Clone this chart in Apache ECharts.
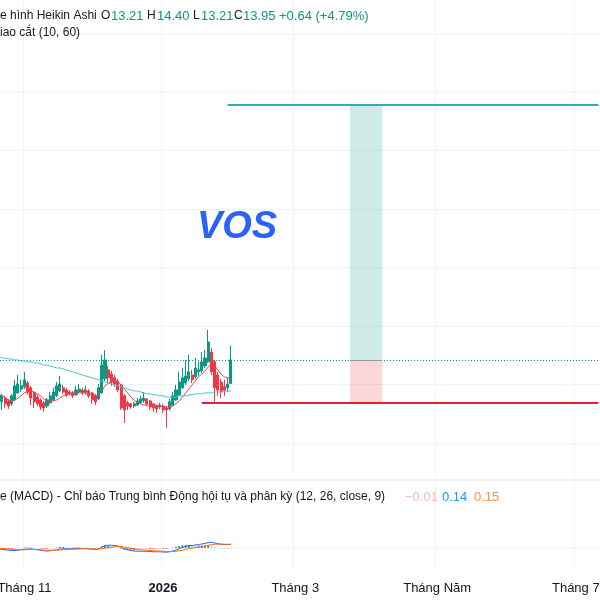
<!DOCTYPE html>
<html><head><meta charset="utf-8">
<script src="https://cdn.jsdelivr.net/npm/echarts@6/dist/echarts.min.js"></script>
<style>html,body{margin:0;padding:0;background:#fff}#c{width:600px;height:600px}</style>
</head><body><div id="c"></div>
<script>
// ---- axis / calendar ----
const startYear = 2025, startMonth = 9, startDay = 22; // 2025-10-22
const barCount = 187;
const holidays = ['2026-01-01'];
const tickDates = ['2025-11-03','2026-01-02','2026-03-02','2026-05-01','2026-07-01'];
const tickLabels = ['Tháng 11','2026','Tháng 3','Tháng Năm','Tháng 7'];
// horizontal price grid levels (main pane)
const gridPrices = [24.14, 22.31, 20.49, 18.66, 16.84, 15.01, 13.19, 11.36];

// ---- Heikin Ashi candles ----
const haOpen = [12.70,12.64,12.76,12.67,12.58,12.70,12.92,13.04,13.11,13.23,13.08,
12.92,12.79,12.70,12.61,12.51,12.61,12.70,12.83,12.98,13.08,
13.01,12.95,12.92,12.86,12.95,13.01,12.95,12.98,12.92,12.83,
12.73,12.92,13.36,13.64,13.51,13.39,13.29,13.17,12.83,12.61,
12.58,12.51,12.54,12.61,12.67,12.73,12.67,12.58,12.51,12.48,
12.51,12.45,12.42,12.54,12.70,12.86,13.08,13.23,13.36,13.48,
13.42,13.58,13.61,13.76,13.89,14.20,13.89,13.48,13.26,13.11,
13.08,13.21];
const haClose = [12.58,12.83,12.58,12.51,12.83,13.14,13.20,13.14,13.33,12.95,12.76,
12.64,12.58,12.48,12.45,12.70,12.83,12.95,13.14,13.20,12.95,
12.86,12.89,12.83,13.01,13.04,12.92,13.01,12.83,12.70,12.64,
13.08,13.79,13.95,13.39,13.26,13.20,13.01,12.45,12.39,12.51,
12.48,12.58,12.67,12.73,12.76,12.58,12.48,12.45,12.42,12.54,
12.39,12.39,12.64,12.83,13.01,13.26,13.39,13.45,13.58,13.33,
13.70,13.64,13.89,14.01,14.51,13.58,13.08,13.01,12.95,13.01,
13.20,13.95];
const haLow = [12.45,12.39,12.45,12.42,12.51,12.67,12.89,12.95,13.04,12.86,12.54,
12.45,12.51,12.39,12.33,12.45,12.58,12.67,12.79,12.95,12.89,
12.79,12.83,12.76,12.83,12.92,12.86,12.86,12.76,12.58,12.54,
12.70,12.89,13.29,13.26,13.14,13.11,12.95,12.39,11.98,12.39,
12.42,12.45,12.51,12.58,12.61,12.51,12.39,12.33,12.29,12.42,
12.29,11.83,12.36,12.51,12.67,12.83,13.04,13.17,13.29,13.23,
13.36,13.45,13.54,13.70,13.86,13.48,12.64,12.83,12.76,12.83,
12.95,13.21];
const haHigh = [12.76,12.89,12.83,12.73,12.89,13.33,13.48,13.33,13.58,13.29,13.14,
12.95,12.86,12.76,12.67,12.76,12.95,13.08,13.26,13.45,13.17,
13.08,13.01,12.98,13.14,13.20,13.08,13.14,13.04,12.95,12.89,
13.20,14.11,14.26,13.76,13.61,13.48,13.36,13.20,12.89,12.67,
12.61,12.64,12.76,12.83,12.95,12.76,12.70,12.61,12.54,12.61,
12.58,12.51,12.73,12.95,13.17,13.58,13.70,13.95,14.11,13.64,
14.01,13.89,14.20,14.26,14.89,14.33,13.95,13.58,13.36,13.33,
13.39,14.40];

// ---- MA cross (10, 60) ----
const maShort = [12.86,12.83,12.76,12.70,12.67,12.70,12.76,12.83,12.92,12.95,12.98,
12.95,12.89,12.83,12.73,12.70,12.67,12.67,12.70,12.76,12.83,
12.86,12.89,12.92,12.92,12.92,12.92,12.92,12.89,12.86,12.83,
12.86,12.98,13.14,13.23,13.26,13.29,13.26,13.17,13.04,12.92,
12.79,12.70,12.61,12.58,12.54,12.54,12.54,12.54,12.54,12.51,
12.48,12.48,12.48,12.51,12.58,12.67,12.79,12.92,13.04,13.17,
13.29,13.42,13.51,13.61,13.73,13.83,13.76,13.64,13.51,13.42,
13.39,13.39];
const maLong = [14.04,14.01,14.01,13.98,13.98,13.95,13.95,13.92,13.92,13.89,13.89,
13.86,13.86,13.83,13.79,13.79,13.76,13.73,13.70,13.70,13.67,
13.64,13.61,13.58,13.54,13.51,13.48,13.45,13.42,13.39,13.36,
13.33,13.29,13.26,13.23,13.20,13.17,13.14,13.11,13.08,13.04,
13.01,12.98,12.98,12.95,12.92,12.89,12.89,12.86,12.86,12.83,
12.83,12.79,12.79,12.79,12.79,12.83,12.83,12.83,12.86,12.86,
12.89,12.89,12.89,12.92,12.92,12.92,12.95,12.95,12.95,12.98,
12.98,12.98];

// ---- MACD (12, 26, close, 9) ----
const macdLine = [-0.04,-0.05,-0.07,-0.09,-0.10,-0.10,-0.09,-0.07,-0.05,-0.04,-0.04,
-0.05,-0.07,-0.09,-0.11,-0.12,-0.11,-0.09,-0.07,-0.04,-0.03,
-0.03,-0.03,-0.03,-0.02,-0.02,-0.02,-0.02,-0.03,-0.05,-0.06,
-0.04,0.03,0.09,0.11,0.11,0.10,0.08,0.03,-0.03,-0.07,
-0.10,-0.12,-0.13,-0.13,-0.13,-0.13,-0.14,-0.15,-0.15,-0.15,
-0.16,-0.17,-0.15,-0.12,-0.08,-0.03,0.02,0.06,0.09,0.10,
0.12,0.14,0.16,0.18,0.22,0.23,0.20,0.17,0.15,0.14,
0.14,0.14];
const signalLine = [-0.02,-0.02,-0.03,-0.04,-0.05,-0.06,-0.07,-0.07,-0.07,-0.06,-0.06,
-0.06,-0.06,-0.07,-0.08,-0.09,-0.09,-0.09,-0.09,-0.08,-0.07,
-0.06,-0.05,-0.05,-0.04,-0.04,-0.03,-0.03,-0.03,-0.03,-0.04,
-0.04,-0.03,-0.01,0.01,0.03,0.05,0.06,0.05,0.04,0.01,
-0.01,-0.03,-0.05,-0.07,-0.08,-0.09,-0.10,-0.11,-0.12,-0.13,
-0.13,-0.14,-0.14,-0.14,-0.13,-0.11,-0.09,-0.06,-0.03,-0.01,
0.02,0.04,0.06,0.08,0.11,0.13,0.15,0.16,0.16,0.15,
0.15,0.15];
const macdHist = [-0.02,-0.03,-0.04,-0.05,-0.05,-0.04,-0.02,0.00,0.02,0.02,0.02,
0.01,-0.01,-0.02,-0.03,-0.03,-0.02,0.00,0.02,0.04,0.04,
0.03,0.02,0.02,0.02,0.02,0.01,0.01,0.00,-0.02,-0.02,
0.00,0.06,0.10,0.10,0.08,0.05,0.02,-0.02,-0.07,-0.08,
-0.09,-0.09,-0.08,-0.06,-0.05,-0.04,-0.04,-0.04,-0.03,-0.02,
-0.03,-0.03,-0.01,0.02,0.05,0.08,0.11,0.12,0.12,0.11,
0.10,0.10,0.10,0.10,0.11,0.10,0.05,0.01,-0.01,-0.01,
-0.01,-0.01];

// ---- long position drawing ----
const lastPrice = 13.95;
const targetPrice = 21.92;
const stopPrice = 12.61;
const posStart = 109, posEnd = 119;
const targetFrom = 71, stopFrom = 63;
const priceChange = '+0.64 (+4.79%)';

// calendar of trading days (weekdays, minus holidays)
const categories = [];
(function () {
  const d = new Date(Date.UTC(startYear, startMonth, startDay));
  while (categories.length < barCount) {
    const wd = d.getUTCDay();
    const s = d.toISOString().slice(0, 10);
    if (wd !== 0 && wd !== 6 && !holidays.includes(s)) categories.push(s);
    d.setUTCDate(d.getUTCDate() + 1);
  }
})();

const candleData = haOpen.map((o, i) => [o, haClose[i], haLow[i], haHigh[i]]);
const histData = macdHist.map((v, i) => {
  const prev = i > 0 ? macdHist[i - 1] : v;
  let c;
  if (v >= 0) c = v >= prev ? '#26a69a' : '#b2dfdb';
  else c = v <= prev ? '#ff5252' : '#ffcdd2';
  return { value: v, itemStyle: { color: c } };
});

const FONT = '"Liberation Sans", Arial, sans-serif';
const TXT = '#131722';
const GREEN = '#089981';
const RED = '#f23645';
const GRID = '#f0f3fa';
const isTick = (i, v) => tickDates.includes(v);
const C = i => categories[i];
const last = haOpen.length - 1;
const W = '12px ' + FONT;   // words
const N = '13px ' + FONT;   // numbers

const t = (x, y, text, fill, font) => ({ type: 'text', x, y, z: 20, silent: true,
  style: { text, fill, font, textVerticalAlign: 'middle' } });

const chart = echarts.init(document.getElementById('c'), null, { renderer: 'canvas' });
chart.setOption({
  animation: false,
  backgroundColor: '#ffffff',
  grid: [
    { left: -3, right: 0, top: 0, height: 478, containLabel: false, outerBoundsMode: 'none' },
    { left: -3, right: 0, top: 482, height: 86, containLabel: false, outerBoundsMode: 'none' }
  ],
  xAxis: [
    { type: 'category', gridIndex: 0, data: categories, boundaryGap: true,
      axisLine: { show: false }, axisTick: { show: false }, axisLabel: { show: false },
      splitLine: { show: true, interval: isTick, lineStyle: { color: GRID, width: 1 } } },
    { type: 'category', gridIndex: 1, data: categories, boundaryGap: true,
      axisLine: { show: false }, axisTick: { show: false },
      axisLabel: { show: true, interval: isTick, margin: 14, color: TXT, fontSize: 13, fontFamily: FONT,
        formatter: v => { const k = tickDates.indexOf(v); return k === 1 ? '{b|' + tickLabels[k] + '}' : tickLabels[k]; },
        rich: { b: { fontWeight: 'bold', fontSize: 13, color: TXT, fontFamily: FONT } } },
      splitLine: { show: true, interval: isTick, lineStyle: { color: GRID, width: 1 } } }
  ],
  yAxis: [
    { type: 'value', gridIndex: 0, min: 10.26, max: 25.2, scale: true,
      axisLine: { show: false }, axisTick: { show: false }, axisLabel: { show: false }, splitLine: { show: false } },
    { type: 'value', gridIndex: 1, min: -0.8, max: 2.64,
      axisLine: { show: false }, axisTick: { show: false }, axisLabel: { show: false }, splitLine: { show: false } }
  ],
  series: [
    { type: 'line', name: 'grid', xAxisIndex: 0, yAxisIndex: 0, data: [], z: 0, silent: true,
      markLine: { z: 0, silent: true, symbol: ['none', 'none'], label: { show: false }, animation: false,
        lineStyle: { type: 'solid', color: GRID, width: 1 },
        data: gridPrices.map(p => ({ yAxis: p })) } },
    { type: 'line', name: 'grid2', xAxisIndex: 1, yAxisIndex: 1, data: [], z: 0, silent: true,
      markLine: { z: 0, silent: true, symbol: ['none', 'none'], label: { show: false }, animation: false,
        lineStyle: { type: 'solid', color: GRID, width: 1 }, data: [{ yAxis: 0 }] } },
    { type: 'candlestick', name: 'HA', xAxisIndex: 0, yAxisIndex: 0, data: candleData, barWidth: '80%', z: 3,
      itemStyle: { color: GREEN, color0: RED, borderColor: GREEN, borderColor0: RED, borderWidth: 1 },
      markArea: { z: 1, silent: true, data: [
        [{ coord: [C(posStart), lastPrice], itemStyle: { color: 'rgba(8,153,129,0.20)' } }, { coord: [C(posEnd), targetPrice] }],
        [{ coord: [C(posStart), stopPrice], itemStyle: { color: 'rgba(242,54,69,0.20)' } }, { coord: [C(posEnd), lastPrice] }]
      ] },
      markLine: { z: 5, silent: true, symbol: ['none', 'none'], label: { show: false }, animation: false, data: [
        { yAxis: lastPrice, lineStyle: { type: [1, 2], color: GREEN, width: 1, opacity: 1 } },
        [{ coord: [C(posStart), lastPrice], lineStyle: { type: 'solid', color: '#9598a1', width: 1 } }, { coord: [C(posEnd), lastPrice] }],
        [{ coord: [C(targetFrom), targetPrice], lineStyle: { type: 'solid', color: '#2fadc3', width: 2 } }, { coord: [C(barCount - 1), targetPrice] }],
        [{ coord: [C(stopFrom), stopPrice], lineStyle: { type: 'solid', color: '#e5202e', width: 2 } }, { coord: [C(barCount - 1), stopPrice] }]
      ] } },
    { type: 'line', name: 'MA10', xAxisIndex: 0, yAxisIndex: 0, data: maShort, showSymbol: false, z: 4,
      lineStyle: { color: '#e8434f', width: 1 } },
    { type: 'line', name: 'MA60', xAxisIndex: 0, yAxisIndex: 0, data: maLong, showSymbol: false, z: 4,
      lineStyle: { color: '#4cc6c8', width: 1 } },
    { type: 'bar', name: 'Hist', xAxisIndex: 1, yAxisIndex: 1, data: histData, barWidth: '60%' },
    { type: 'line', name: 'MACD', xAxisIndex: 1, yAxisIndex: 1, data: macdLine, showSymbol: false,
      lineStyle: { color: '#2962ff', width: 1 } },
    { type: 'line', name: 'Signal', xAxisIndex: 1, yAxisIndex: 1, data: signalLine, showSymbol: false,
      lineStyle: { color: '#ff6d00', width: 1 } }
  ],
  graphic: [
    { type: 'line', silent: true, shape: { x1: 0, y1: 480, x2: 600, y2: 480 }, style: { stroke: '#e0e3eb', lineWidth: 1 } },
    t(0, 16, 'e hình Heikin Ashi', TXT, W),
    t(101, 16, 'O', TXT, W),
    t(111, 16, haOpen[last].toFixed(2), GREEN, N),
    t(147, 16, 'H', TXT, W),
    t(157, 16, haHigh[last].toFixed(2), GREEN, N),
    t(193, 16, 'L', TXT, W),
    t(201, 16, haLow[last].toFixed(2), GREEN, N),
    t(234, 16, 'C', TXT, W),
    t(243, 16, haClose[last].toFixed(2), GREEN, N),
    t(279, 16, priceChange, GREEN, N),
    t(0, 33, 'iao cắt (10, 60)', TXT, W),
    { type: 'text', x: 237, y: 228, z: 20, silent: true, style: { text: 'VOS', fill: '#2962ff', font: 'italic bold 38px ' + FONT, textAlign: 'center', textVerticalAlign: 'middle' } },
    t(0, 497, 'e (MACD) - Chỉ báo Trung bình Động hội tụ và phân kỳ (12, 26, close, 9)', TXT, W),
    t(405, 497, '−' + Math.abs(macdHist[last]).toFixed(2), '#f8b9c0', N),
    t(442, 497, macdLine[last].toFixed(2), '#2196f3', N),
    t(474, 497, signalLine[last].toFixed(2), '#ff8f3a', N)
  ]
});
</script>
</body></html>
